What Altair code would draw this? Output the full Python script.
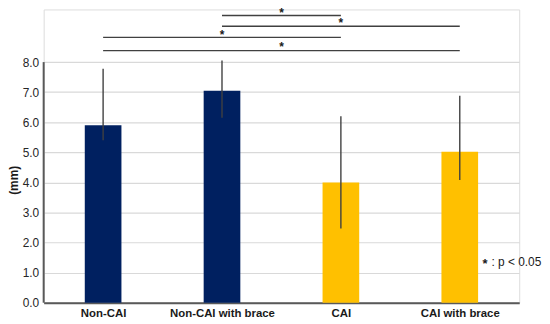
import altair as alt
import pandas as pd
import json

categories = ["Non-CAI", "Non-CAI with brace", "CAI", "CAI with brace"]
means = [5.9, 7.05, 4.0, 5.02]
err_low = [5.4, 6.15, 2.47, 4.08]
err_high = [7.78, 8.05, 6.2, 6.88]
groups = ["Non-CAI", "Non-CAI", "CAI", "CAI"]

# significance brackets: (start index, end index, level)
sig_start = [1, 1, 0, 0]
sig_end = [2, 3, 2, 3]
sig_level = [9.55, 9.19, 8.82, 8.38]
star_level = [9.70, 9.35, 8.97, 8.56]

pos = [i + 0.5 for i in range(len(categories))]
bars = pd.DataFrame({"cat": categories, "pos": pos, "mean": means, "lo": err_low, "hi": err_high, "grp": groups})
sig = pd.DataFrame({
    "x1": [pos[i] for i in sig_start],
    "x2": [pos[i] for i in sig_end],
    "mid": [(pos[a] + pos[b]) / 2 for a, b in zip(sig_start, sig_end)],
    "level": sig_level,
    "star": star_level,
})
axis_span = pd.DataFrame({"y0": [0.0], "y1": [8.0]})
note = pd.DataFrame({"y": [1.35]})

FONT = "Liberation Sans"
ymax = 9.75
yscale = alt.Scale(domain=[0, ymax], nice=False, zero=True, padding=0)
xscale = alt.Scale(domain=[0, len(categories)], nice=False, zero=False, padding=0)

x_axis = alt.Axis(values=pos, labelExpr=f"{json.dumps(categories)}[floor(datum.value)]",
                  labelAngle=0, labelFontWeight="bold", labelFontSize=11.5,
                  labelColor="#1a1a1a", labelFont=FONT, ticks=False, grid=False,
                  labelOverlap=False, domain=True, domainColor="#595959", domainWidth=2, labelPadding=5)
y_axis = alt.Axis(values=list(range(0, 9)), format=".1f", domain=False, ticks=False,
                  labelOverlap=False,
                  gridColor="#d9d9d9", gridWidth=1.2, labelFontSize=12,
                  labelColor="#262626", labelFont=FONT, labelPadding=5,
                  titleFont=FONT, titleFontWeight="bold", titleFontSize=12,
                  titleColor="#1a1a1a", titleX=-35, titleY=172, titleBaseline="top")

def X(field):
    return alt.X(field, type="quantitative", scale=xscale, title=None, axis=x_axis)

def Y(field):
    return alt.Y(field, type="quantitative", scale=yscale, title="(mm)", axis=y_axis)

bar_layer = alt.Chart(bars).mark_bar(size=37).encode(
    x=X("pos"), y=Y("mean"),
    color=alt.Color("grp:N", scale=alt.Scale(domain=["Non-CAI", "CAI"], range=["#002060", "#FFC000"]), legend=None),
)

err_layer = alt.Chart(bars).mark_rule(color="#404040", strokeWidth=1.4).encode(
    x=X("pos"), y=Y("lo"), y2="hi:Q",
)

yaxis_line = alt.Chart(axis_span).mark_rule(color="#595959", strokeWidth=2).encode(
    x=alt.value(0), y=Y("y0"), y2="y1:Q",
)

sig_lines = alt.Chart(sig).mark_rule(color="#404040", strokeWidth=1.4).encode(
    x=X("x1"), x2="x2:Q", y=Y("level"),
)

stars = alt.Chart(sig).mark_text(text="*", fontSize=12, fontWeight="bold", font=FONT,
                                 color="#1a1a1a", baseline="middle", dy=2).encode(
    x=X("mid"), y=Y("star"),
)

note_star = alt.Chart(note).mark_text(text="*", fontSize=13, fontWeight="bold", font=FONT,
                                      color="#1a1a1a", align="left", baseline="middle", dy=2).encode(
    x=alt.value(443), y=Y("y"),
)
note_text = alt.Chart(note).mark_text(text=": p < 0.05", fontSize=12, font=FONT,
                                      color="#1a1a1a", align="left", baseline="middle").encode(
    x=alt.value(452), y=Y("y"),
)

chart = alt.layer(bar_layer, err_layer, yaxis_line, sig_lines, stars, note_star, note_text).properties(
    width=480, height=296,
    padding={"left": 36, "top": 0, "right": 23, "bottom": 18},
    autosize=alt.AutoSizeParams(type="none"),
).configure_view(stroke="white", strokeWidth=2, fill="white").configure_axisY(
    domain=False
).configure(background="white")

chart.save("out.html", embed_options={"renderer": "svg", "actions": False})
